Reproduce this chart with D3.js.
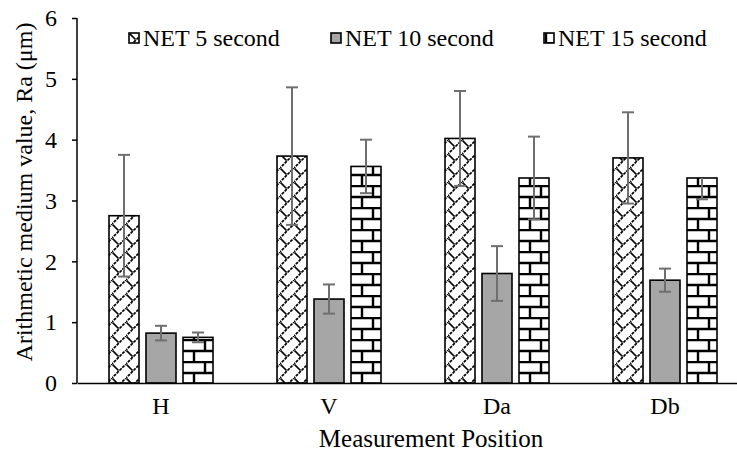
<!DOCTYPE html>
<html><head><meta charset="utf-8">
<script src="https://cdn.jsdelivr.net/npm/d3@7"></script>
<style>body{margin:0;background:#fff}svg{display:block}text{font-family:"Liberation Serif","Times New Roman",serif;fill:#000}</style>
</head><body><svg id="c" width="737" height="454"></svg>
<script>
const categories = ["H","V","Da","Db"];
const seriesNames = ["NET 5 second","NET 10 second","NET 15 second"];
const net5 = [2.75, 3.73, 4.02, 3.70];
const net10 = [0.82, 1.38, 1.80, 1.69];
const net15 = [0.75, 3.56, 3.37, 3.37];
const err5 = [1.0, 1.13, 0.78, 0.75];
const err10 = [0.12, 0.24, 0.45, 0.19];
const err15Low = [0.08, 0.44, 0.68, 0.35];
const err15High = [0.08, 0.44, 0.68, 0.0];
const yTicks = [0,1,2,3,4,5,6];

const svg = d3.select("#c");
const m = {l:77, t:18, b:383, r:749};
const x0 = d3.scaleBand().domain(categories).range([m.l, m.r]).paddingInner(0).paddingOuter(0);
const y = d3.scaleLinear().domain([0,6]).range([m.b, m.t]);
const bw = 30, gap = 7;
const x1 = d3.scaleBand().domain(seriesNames).range([0, 3*bw+2*gap]).paddingInner(gap/(bw+gap));

const defs = svg.append("defs");
// zigzag trellis pattern
const p1 = defs.append("pattern").attr("id","pz").attr("patternUnits","userSpaceOnUse").attr("width",14).attr("height",14);
p1.append("rect").attr("width",14).attr("height",14).attr("fill","#fff");
p1.append("path").attr("d","M-1,15 L15,-1").attr("stroke","#000").attr("stroke-width",1.7).attr("stroke-dasharray","3,1");
p1.append("path").attr("d","M0.5,0.5 L6.5,6.5").attr("stroke","#000").attr("stroke-width",1.7);
// brick pattern
const p2 = defs.append("pattern").attr("id","pb").attr("patternUnits","userSpaceOnUse").attr("width",24).attr("height",22).attr("x",0).attr("y",m.b);
p2.append("rect").attr("width",24).attr("height",22).attr("fill","#fff");
p2.append("path").attr("d","M0,1 H24 M0,12 H24 M13,0 V12 M2,11 V22").attr("stroke","#000").attr("stroke-width",2.4);

const fills = ["url(#pz)","#a6a6a6","url(#pb)"];
const vals = [net5, net10, net15];
const eLow = [err5, err10, err15Low];
const eHigh = [err5, err10, err15High];

// axes
const yAxis = svg.append("g").attr("transform",`translate(${m.l},0)`)
  .call(d3.axisLeft(y).tickValues(yTicks).tickSize(5).tickPadding(15).tickFormat(d3.format("d")));
yAxis.select(".domain").attr("stroke","#000").attr("stroke-width",1.5).attr("d",`M0,${m.t}V${m.b}`);
yAxis.selectAll(".tick line").attr("stroke","#000").attr("stroke-width",1.5);
yAxis.selectAll(".tick text").attr("font-size",24);

// bars
seriesNames.forEach((s,si)=>{
  const g = svg.append("g");
  g.selectAll("rect").data(categories).join("rect")
    .attr("x",d=>x0(d)+x0.bandwidth()/2-(3*bw+2*gap)/2+x1(s))
    .attr("width",x1.bandwidth())
    .attr("y",(d,i)=>y(vals[si][i]))
    .attr("height",(d,i)=>y(0)-y(vals[si][i]))
    .attr("fill",fills[si]).attr("stroke","#000").attr("stroke-width",1.6);
});
// error bars
seriesNames.forEach((s,si)=>{
  const g = svg.append("g").attr("stroke","#6f6f6f").attr("stroke-width",2);
  categories.forEach((c,i)=>{
    const cx = x0(c)+x0.bandwidth()/2-(3*bw+2*gap)/2+x1(s)+x1.bandwidth()/2;
    const hi = y(vals[si][i]+eHigh[si][i]), lo = y(vals[si][i]-eLow[si][i]);
    g.append("line").attr("x1",cx).attr("x2",cx).attr("y1",hi).attr("y2",lo);
    if (eHigh[si][i]>0) g.append("line").attr("x1",cx-6).attr("x2",cx+6).attr("y1",hi).attr("y2",hi);
    g.append("line").attr("x1",cx-6).attr("x2",cx+6).attr("y1",lo).attr("y2",lo);
  });
});

// x axis
const xAxis = svg.append("g").attr("transform",`translate(0,${m.b})`)
  .call(d3.axisBottom(x0).tickSize(0).tickPadding(14));
xAxis.select(".domain").attr("stroke","#000").attr("stroke-width",1.5);
xAxis.selectAll(".tick text").attr("font-size",24);

// axis titles
svg.append("text").attr("x",431).attr("y",447).attr("text-anchor","middle").attr("font-size",25).text("Measurement Position");
svg.append("text").attr("transform",`translate(32,192) rotate(-90)`).attr("text-anchor","middle").attr("font-size",24).text("Arithmetic medium value, Ra (μm)");

// legend
const legX = [129, 331, 544];
seriesNames.forEach((s,si)=>{
  const g = svg.append("g").attr("transform",`translate(${legX[si]},33)`);
  g.append("rect").attr("width",10).attr("height",10).attr("fill",fills[si]).attr("stroke","#000").attr("stroke-width",1.6);
  g.append("text").attr("x",14).attr("y",13).attr("font-size",24).text(s);
});
</script></body></html>
